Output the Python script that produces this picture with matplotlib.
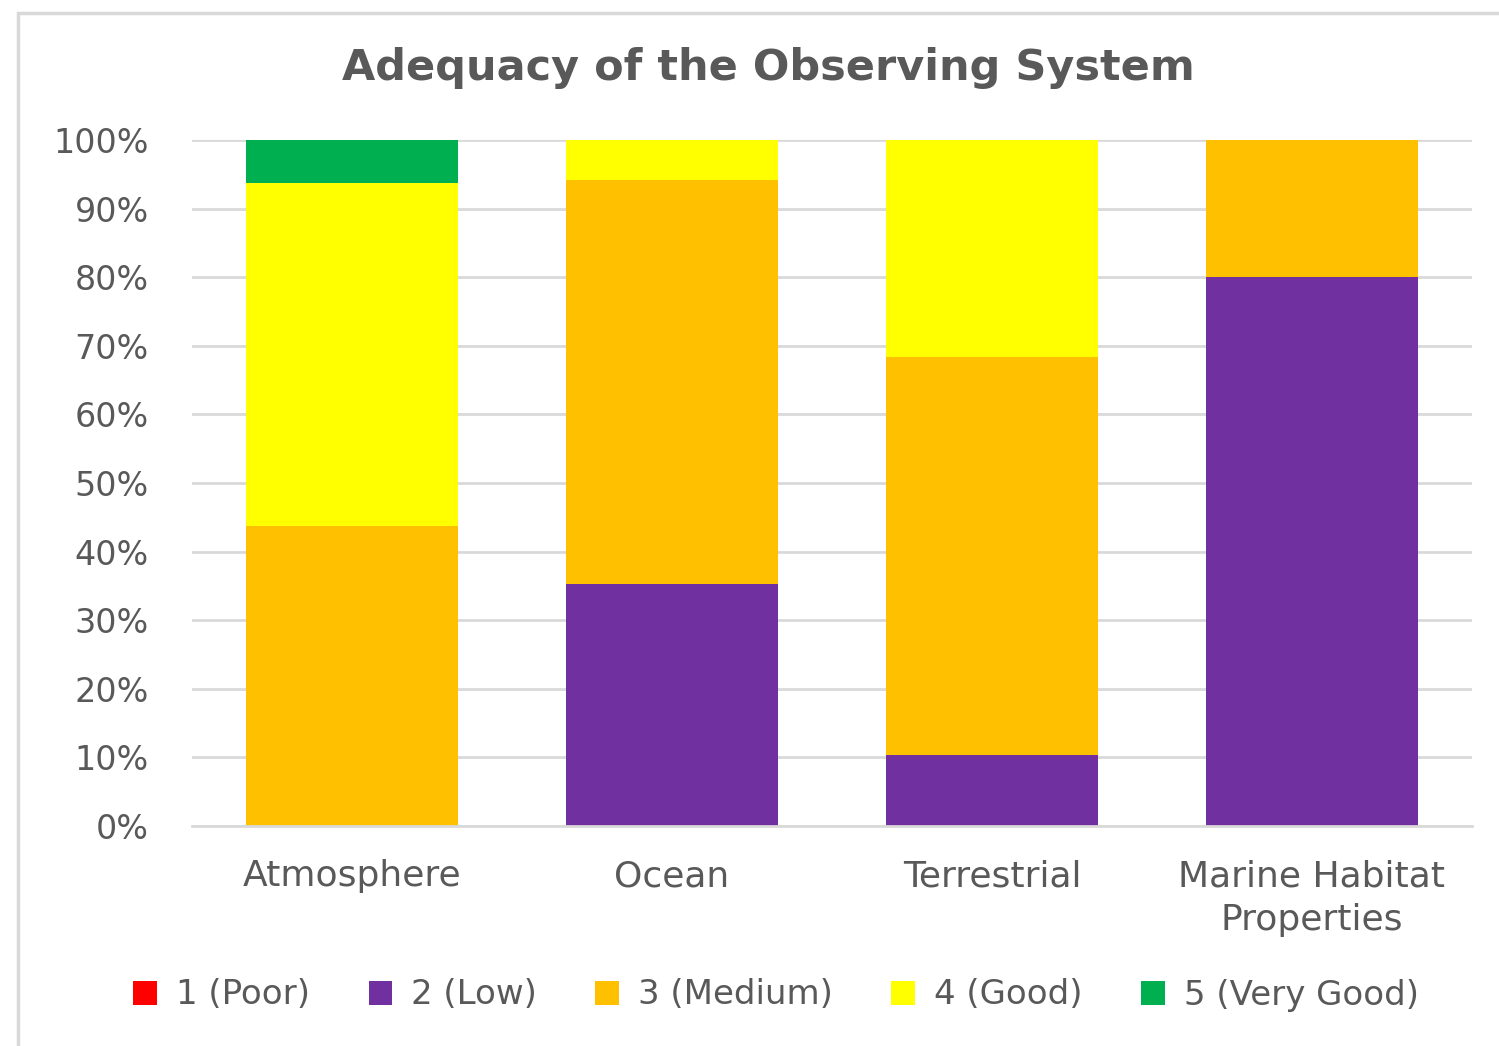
import matplotlib
matplotlib.use("Agg")
import matplotlib.pyplot as plt
from matplotlib.patches import Rectangle
import numpy as np

categories = ["Atmosphere", "Ocean", "Terrestrial", "Marine Habitat\nProperties"]
series_names = ["1 (Poor)", "2 (Low)", "3 (Medium)", "4 (Good)", "5 (Very Good)"]
poor = [0.0, 0.0, 0.0, 0.0]
low = [0.0, 35.3, 10.4, 80.0]
medium = [43.75, 58.8, 57.9, 20.0]
good = [50.0, 5.9, 31.7, 0.0]
very_good = [6.25, 0.0, 0.0, 0.0]
colors = ["#FF0000", "#7030A0", "#FFC000", "#FFFF00", "#00B050"]
yticks = [0, 10, 20, 30, 40, 50, 60, 70, 80, 90, 100]

plt.rcParams['font.family'] = ['DejaVu Sans']
text_color = "#595959"
grid_color = "#D9D9D9"

W, H = 1499, 1046
fig = plt.figure(figsize=(W / 100, H / 100), dpi=100)
ax = fig.add_axes([192 / W, 1 - 826 / H, (1472 - 192) / W, (826 - 140) / H])

x = np.arange(len(categories))
bottom = np.zeros(len(categories))
handles = []
for name, vals, c in zip(series_names, [poor, low, medium, good, very_good], colors):
    b = ax.bar(x, vals, width=0.6625, bottom=bottom, color=c, label=name, zorder=3)
    handles.append(b)
    bottom += np.array(vals)

ax.set_xlim(-0.5, 3.5)
ax.set_ylim(0, 100)
ax.set_yticks(yticks)
ax.set_yticklabels([f"{v}%" for v in yticks], fontsize=24, color=text_color)
ax.set_xticks(x)
ax.set_xticklabels(categories, fontsize=26, color=text_color, linespacing=1.35)
ax.tick_params(axis='both', length=0)
ax.tick_params(axis='x', pad=24)
ax.tick_params(axis='y', pad=31)
ax.yaxis.grid(True, color=grid_color, linewidth=2, zorder=0)
for s in ["top", "right", "left"]:
    ax.spines[s].set_visible(False)
ax.spines["bottom"].set_color(grid_color)
ax.spines["bottom"].set_linewidth(2)
ax.spines["bottom"].set_zorder(4)

fig.text(768 / W, 1 - 68 / H, "Adequacy of the Observing System", ha='center', va='center',
         fontsize=31, fontweight='bold', color=text_color)

leg = fig.legend(handles=handles, labels=series_names, loc='center', ncol=5,
                 bbox_to_anchor=(776 / W, 1 - 995 / H), frameon=False, fontsize=24.5,
                 handlelength=0.7, handleheight=0.7, handletextpad=0.55, columnspacing=1.72)
for t in leg.get_texts():
    t.set_color(text_color)

fig.patches.append(Rectangle((18 / W, -0.05), 1.1, 1 - 13 / H + 0.05, transform=fig.transFigure,
                             fill=False, edgecolor=grid_color, linewidth=2.5, zorder=0))

fig.savefig("out.png", dpi=100)
